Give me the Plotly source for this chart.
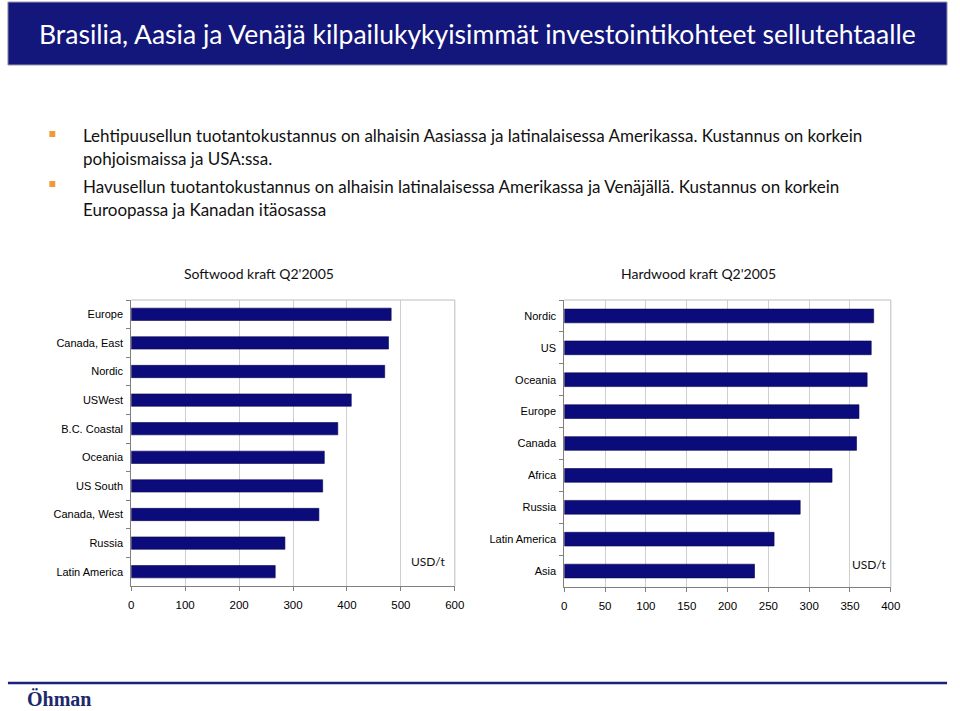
import plotly.graph_objects as go

# ---- data ----
soft_regions = ["Europe", "Canada, East", "Nordic", "USWest", "B.C. Coastal",
                "Oceania", "US South", "Canada, West", "Russia", "Latin America"]
soft_costs = [482, 477, 470, 408, 383, 358, 355, 348, 285, 267]

hard_regions = ["Nordic", "US", "Oceania", "Europe", "Canada", "Africa",
                "Russia", "Latin America", "Asia"]
hard_costs = [379, 376, 371, 361, 358, 328, 289, 257, 233]

soft_ticks = [0, 100, 200, 300, 400, 500, 600]
hard_ticks = [0, 50, 100, 150, 200, 250, 300, 350, 400]

W, H = 960, 711
def px(x): return x / W
def py(y): return 1 - y / H

NAVY = "#0B0B7C"
HEAD = "#13167A"
ORANGE = "#F29A3A"

fig = go.Figure()
fig.add_trace(go.Bar(x=soft_costs, y=soft_regions, orientation="h",
                     marker=dict(color=NAVY, line=dict(color="#05054a", width=0.6)),
                     xaxis="x", yaxis="y", hoverinfo="skip", showlegend=False))
fig.add_trace(go.Bar(x=hard_costs, y=hard_regions, orientation="h",
                     marker=dict(color=NAVY, line=dict(color="#05054a", width=0.6)),
                     xaxis="x2", yaxis="y2", hoverinfo="skip", showlegend=False))

axfont = dict(family="Liberation Sans, Arial", size=11, color="#000000")
common_x = dict(showgrid=True, gridcolor="#cfcfcf", gridwidth=1, zeroline=False,
                showline=True, linecolor="#808080", linewidth=1,
                ticks="outside", ticklen=4, tickcolor="#808080",
                tickfont=dict(axfont, size=11.5), ticklabelstandoff=4, fixedrange=True)
common_y = dict(showgrid=False, zeroline=False, showline=True, linecolor="#808080",
                linewidth=1, ticks="outside", ticklen=4, tickcolor="#808080",
                tickson="boundaries", tickfont=axfont, autorange="reversed",
                ticklabelstandoff=5, fixedrange=True, type="category")

fig.update_layout(
    width=W, height=H, margin=dict(l=0, r=0, t=0, b=0),
    paper_bgcolor="white", plot_bgcolor="white",
    bargap=0.57,
    xaxis=dict(common_x, domain=[px(130), px(458)], range=[0, 600],
               tickvals=soft_ticks, anchor="y"),
    yaxis=dict(common_y, domain=[py(586), py(300)], anchor="x",
               categoryorder="array", categoryarray=soft_regions),
    xaxis2=dict(common_x, domain=[px(569), px(900)], range=[0, 400],
                tickvals=hard_ticks, anchor="y2"),
    yaxis2=dict(common_y, domain=[py(587), py(300)], anchor="x2",
                categoryorder="array", categoryarray=hard_regions),
)

shapes = [
    # header bar
    dict(type="rect", xref="paper", yref="paper", x0=px(5), x1=px(957),
         y0=py(65), y1=py(2), fillcolor=HEAD, line=dict(color="#9a9ab0", width=1), layer="below"),
    # bullets
    dict(type="rect", xref="paper", yref="paper", x0=px(47), x1=px(53),
         y0=py(137), y1=py(131), fillcolor=ORANGE, line=dict(width=0)),
    dict(type="rect", xref="paper", yref="paper", x0=px(47), x1=px(53),
         y0=py(187), y1=py(181), fillcolor=ORANGE, line=dict(width=0)),
    # footer line
    dict(type="line", xref="paper", yref="paper", x0=px(5), x1=px(957),
         y0=py(683), y1=py(683), line=dict(color="#1A2080", width=2.5)),
]
# plot-area top/right borders
for xr, yr in (("x domain", "y domain"), ("x2 domain", "y2 domain")):
    shapes.append(dict(type="line", xref=xr, yref=yr, x0=0, x1=1, y0=1, y1=1,
                       line=dict(color="#bdbdbd", width=1)))
    shapes.append(dict(type="line", xref=xr, yref=yr, x0=1, x1=1, y0=0, y1=1,
                       line=dict(color="#bdbdbd", width=1)))
fig.update_layout(shapes=shapes)

GILL = "Lato, Open Sans, sans-serif"
ann = []
ann.append(dict(text="Brasilia, Aasia ja Venäjä kilpailukykyisimmät investointikohteet sellutehtaalle",
                x=px(481), y=py(34), xanchor="center", yanchor="middle",
                font=dict(family=GILL, size=26.5, color="white")))
lines = [
    ("Lehtipuusellun tuotantokustannus on alhaisin Aasiassa ja latinalaisessa Amerikassa. Kustannus on korkein", 136),
    ("pohjoismaissa ja USA:ssa.", 159),
    ("Havusellun tuotantokustannus on alhaisin latinalaisessa Amerikassa ja Venäjällä. Kustannus on korkein", 186),
    ("Euroopassa ja Kanadan itäosassa", 209),
]
for t, yy in lines:
    ann.append(dict(text=t, x=px(79), y=py(yy), xanchor="left", yanchor="middle",
                    font=dict(family=GILL, size=17, color="#111111")))
ann.append(dict(text="Softwood kraft Q2'2005", x=px(260), y=py(273), xanchor="center",
                yanchor="middle", font=dict(family=GILL, size=14, color="#111111")))
ann.append(dict(text="Hardwood kraft Q2'2005", x=px(705), y=py(273), xanchor="center",
                yanchor="middle", font=dict(family=GILL, size=14, color="#111111")))
ann.append(dict(text="USD/t", x=px(431), y=py(561), xanchor="center", yanchor="middle",
                font=dict(family=GILL, size=12, color="#111111")))
ann.append(dict(text="USD/t", x=px(878), y=py(564), xanchor="center", yanchor="middle",
                font=dict(family=GILL, size=12, color="#111111")))
ann.append(dict(text="<b>Öhman</b>", x=px(22), y=py(699), xanchor="left", yanchor="middle",
                font=dict(family="Liberation Serif, DejaVu Serif, serif", size=20, color="#1A2A6C")))
for a in ann:
    a.update(xref="paper", yref="paper", showarrow=False)
fig.update_layout(annotations=ann)

fig.write_html("out.html")
